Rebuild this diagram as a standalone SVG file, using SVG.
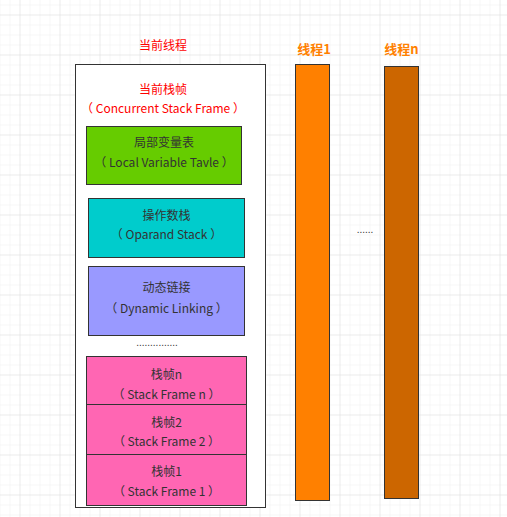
<svg xmlns="http://www.w3.org/2000/svg" width="507" height="517" viewBox="0 0 507 517">
<defs>
<pattern id="minor" width="10" height="10" patternUnits="userSpaceOnUse" x="9.5" y="4.5">
<path d="M0 0H10M0 0V10" fill="none" stroke="#f0f0f0" stroke-width="1"/>
</pattern>
<pattern id="major" width="40" height="40" patternUnits="userSpaceOnUse" x="19.5" y="14.5">
<path d="M0 0H40M0 0V40" fill="none" stroke="#e2e2e2" stroke-width="1"/>
</pattern>
</defs>
<style>
.box{stroke:#333333;stroke-width:1}
.t{font-family:"Noto Sans CJK SC","Liberation Sans",sans-serif;font-size:12px;fill:#333333;text-anchor:middle;dominant-baseline:central}
.r{fill:#ff0000}
.o{font-family:"Noto Sans CJK SC","Liberation Sans",sans-serif;font-size:13px;font-weight:bold;fill:#ff8000;text-anchor:middle;dominant-baseline:central}
</style>
<rect width="507" height="517" fill="#ffffff"/>
<rect width="507" height="517" fill="url(#minor)"/>
<rect width="507" height="517" fill="url(#major)"/>

<g id="thread-current">
<text class="t r" x="163" y="44">当前线程</text>
<rect class="box" x="75.5" y="64.5" width="190" height="443" fill="#ffffff"/>
<text class="t r" x="163" y="88">当前栈帧</text>
<text class="t r" x="163" y="107.5">（ Concurrent Stack Frame ）</text>
</g>
<g id="local-vars">
<rect class="box" x="86.5" y="126.5" width="155" height="58" fill="#66cc00"/>
<text class="t" x="164" y="141.5">局部变量表</text>
<text class="t" x="164" y="161.5">（ Local Variable Tavle ）</text>
</g>
<g id="operand-stack">
<rect class="box" x="88.5" y="198.5" width="156" height="59" fill="#00cccc"/>
<text class="t" x="166.5" y="214">操作数栈</text>
<text class="t" x="166.5" y="233.5">（ Oparand Stack ）</text>
</g>
<g id="dynamic-linking">
<rect class="box" x="88.5" y="266.5" width="156" height="69" fill="#9999ff"/>
<text class="t" x="166.5" y="286.5">动态链接</text>
<text class="t" x="166.5" y="307">（ Dynamic Linking ）</text>
</g>
<g id="dots-left">
<text x="157" y="346" font-family="Liberation Sans, sans-serif" font-size="10" fill="#333333" text-anchor="middle">...............</text>
</g>
<g id="frame-n">
<rect class="box" x="86.5" y="356.5" width="160" height="48" fill="#ff66b3"/>
<text class="t" x="166.5" y="373">栈帧n</text>
<text class="t" x="166.5" y="393">（ Stack Frame n ）</text>
</g>
<g id="frame-2">
<rect class="box" x="86.5" y="404.5" width="160" height="50" fill="#ff66b3"/>
<text class="t" x="166.5" y="421">栈帧2</text>
<text class="t" x="166.5" y="440.5">（ Stack Frame 2 ）</text>
</g>
<g id="frame-1">
<rect class="box" x="86.5" y="454.5" width="160" height="51" fill="#ff66b3"/>
<text class="t" x="166.5" y="470.5">栈帧1</text>
<text class="t" x="166.5" y="490.5">（ Stack Frame 1 ）</text>
</g>
<g id="thread-1">
<text class="o" x="314" y="48.5">线程1</text>
<rect class="box" x="295.5" y="64.5" width="34" height="436" fill="#ff8000"/>
</g>
<g id="dots-right">
<text x="365" y="233" font-family="Liberation Sans, sans-serif" font-size="10" fill="#333333" text-anchor="middle">......</text>
</g>
<g id="thread-n">
<text class="o" x="401.5" y="48">线程n</text>
<rect class="box" x="384.5" y="66.5" width="34" height="432" fill="#cc6600"/>
</g>
<g id="connectors"></g>
</svg>
